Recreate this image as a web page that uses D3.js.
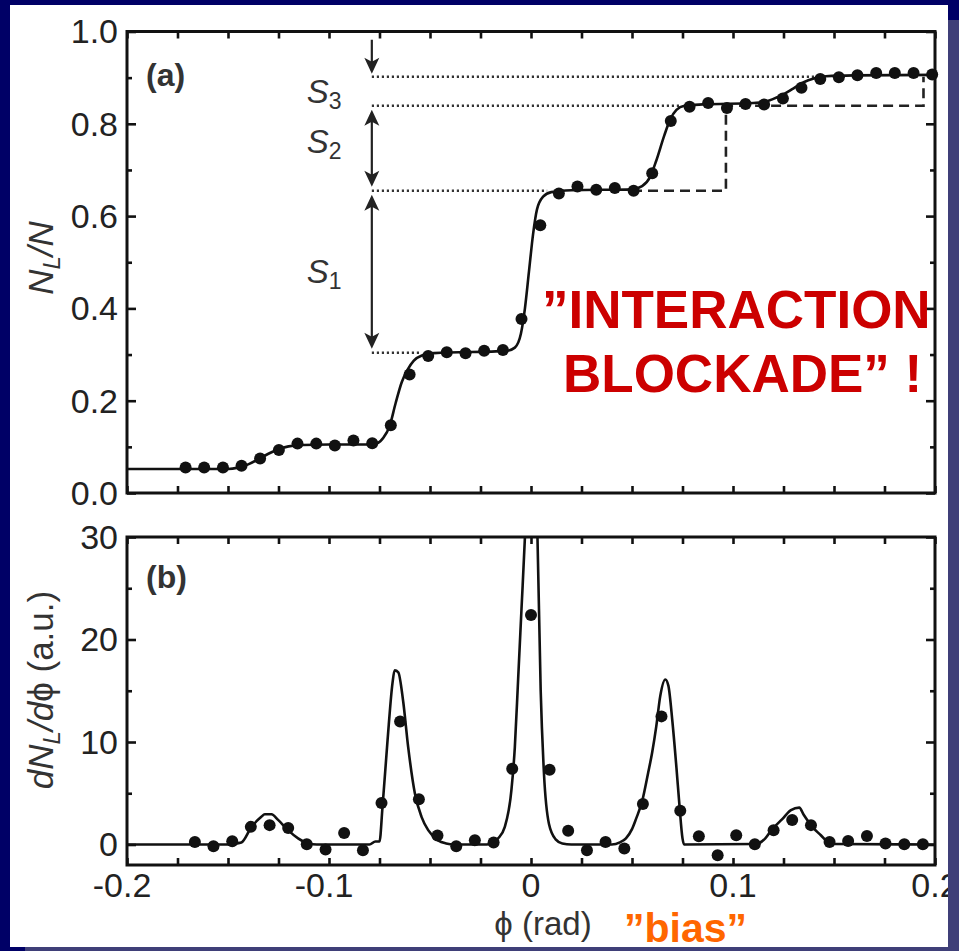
<!DOCTYPE html>
<html><head><meta charset="utf-8">
<script src="https://cdn.jsdelivr.net/npm/d3@7"></script>
<style>html,body{margin:0;padding:0;background:#000066;overflow:hidden}</style>
</head><body>
<svg id="c" width="959" height="951"></svg>
<script>
// ---------- data ----------
// panel (a): measured N_L/N
const phiA = [-0.1710,-0.1618,-0.1525,-0.1433,-0.1341,-0.1248,-0.1156,-0.1063,-0.0971,-0.0879,-0.0786,-0.0694,-0.0601,-0.0509,-0.0417,-0.0324,-0.0232,-0.0139,-0.0047,0.0046,0.0138,0.0230,0.0323,0.0415,0.0508,0.0600,0.0692,0.0785,0.0877,0.0970,0.1062,0.1154,0.1247,0.1339,0.1432,0.1524,0.1616,0.1709,0.1801,0.1894,0.1986];
const nlA = [0.055,0.055,0.055,0.059,0.075,0.093,0.107,0.107,0.103,0.114,0.108,0.147,0.257,0.297,0.305,0.303,0.308,0.310,0.377,0.580,0.649,0.664,0.657,0.661,0.655,0.693,0.806,0.837,0.845,0.834,0.843,0.842,0.855,0.878,0.897,0.901,0.905,0.910,0.910,0.910,0.907];
// panel (a): fitted curve
const fitAPhi = [-0.200,-0.150,-0.145,-0.140,-0.135,-0.130,-0.125,-0.120,-0.113,-0.100,-0.080,-0.076,-0.073,-0.070,-0.067,-0.064,-0.061,-0.058,-0.054,-0.048,-0.012,-0.008,-0.005,-0.003,-0.001,0.001,0.003,0.006,0.010,0.020,0.050,0.055,0.059,0.062,0.066,0.069,0.072,0.076,0.085,0.110,0.116,0.120,0.125,0.130,0.135,0.140,0.146,0.160,0.200];
const fitAVal = [0.052,0.052,0.055,0.062,0.073,0.085,0.095,0.101,0.104,0.105,0.105,0.108,0.120,0.145,0.195,0.240,0.268,0.287,0.298,0.303,0.308,0.315,0.345,0.400,0.480,0.560,0.615,0.642,0.652,0.656,0.658,0.665,0.685,0.720,0.775,0.810,0.830,0.839,0.842,0.845,0.848,0.854,0.864,0.877,0.890,0.898,0.903,0.905,0.906];
// panel (a): step levels S1..S3 and the dashed staircase
const levels = [0.304, 0.655, 0.839, 0.902];
const levelEnds = [-0.055, 0.008, 0.074, 0.145];
const arrowPhi = -0.0788;
const stairPhi = [0.050, 0.0965, 0.0965, 0.1943, 0.1943];
const stairVal = [0.655, 0.655, 0.839, 0.839, 0.902];

// panel (b): measured derivative
const phiB = [-0.1664,-0.1572,-0.1479,-0.1387,-0.1294,-0.1202,-0.1110,-0.1017,-0.0925,-0.0832,-0.0740,-0.0648,-0.0555,-0.0463,-0.0370,-0.0278,-0.0185,-0.0093,0.0000,0.0092,0.0184,0.0277,0.0369,0.0462,0.0554,0.0646,0.0739,0.0831,0.0924,0.1016,0.1108,0.1201,0.1293,0.1386,0.1478,0.1570,0.1663,0.1755,0.1848,0.1940];
const dB = [0.25,-0.17,0.32,1.72,1.89,1.62,0.03,-0.49,1.13,-0.56,4.06,12.0,4.42,0.88,-0.17,0.42,0.20,7.38,22.4,7.3,1.33,-0.56,0.25,-0.40,3.95,12.5,3.3,0.81,-1.05,0.90,0.03,1.39,2.4,1.89,0.25,0.35,0.84,0.10,0.03,0.03];
// panel (b): fitted curve
const fitBPhi = [-0.200,-0.150,-0.1483,-0.1434,-0.1384,-0.1335,-0.1318,-0.1285,-0.1252,-0.1203,-0.1153,-0.1103,-0.106,-0.080,-0.077,-0.075,-0.0735,-0.071,-0.0686,-0.0675,-0.0657,-0.0633,-0.0608,-0.0575,-0.0542,-0.0509,-0.046,-0.042,-0.038,-0.022,-0.0196,-0.0163,-0.013,-0.0097,-0.008,-0.0064,-0.0047,-0.003,-0.0015,0.000,0.0015,0.0032,0.0048,0.0064,0.0089,0.0122,0.0155,0.020,0.040,0.044,0.047,0.050,0.052,0.055,0.058,0.060,0.062,0.064,0.0665,0.068,0.070,0.072,0.0735,0.075,0.0758,0.111,0.116,0.119,0.1245,0.1287,0.1328,0.135,0.1394,0.1435,0.1468,0.150,0.200];
const fitBVal = [0.0,0.0,0.05,0.2,1.7,2.7,2.95,2.95,2.4,1.4,0.6,0.1,0.0,0.0,0.3,0.3,3.7,10.2,15.7,17.0,16.8,14.0,9.5,5.0,2.7,1.4,0.4,0.1,0.0,0.0,0.1,0.6,1.7,5.3,9.5,16,23,30,38,40,38,30,15,7,2,0.5,0.1,0.0,0.0,0.2,0.6,1.5,2.5,4.2,7.0,9.0,11.5,14.5,16.1,15.5,12.0,7.5,3.8,0.6,0.0,0.05,0.6,1.4,2.5,3.35,3.6,2.9,1.7,0.9,0.25,0.05,0.0];

// axis ticks and labels
const xTicks = [-0.2,-0.1,0,0.1,0.2];
const xTickLabels = ["-0.2","-0.1","0","0.1","0.2"];
const xMinor = [-0.2,-0.175,-0.15,-0.125,-0.1,-0.075,-0.05,-0.025,0,0.025,0.05,0.075,0.1,0.125,0.15,0.175,0.2];
const yATicks = [0,0.2,0.4,0.6,0.8,1.0];
const yATickLabels = ["0.0","0.2","0.4","0.6","0.8","1.0"];
const yAMinor = [0.1,0.3,0.5,0.7,0.9];
const yBTicks = [0,10,20,30];
const yBTickLabels = ["0","10","20","30"];
const yBMinor = [5,15,25];

// ---------- drawing ----------
const FONT = "'Liberation Sans', Arial, Helvetica, sans-serif";
const INK = "#111";
const svg = d3.select("#c");

svg.append("rect").attr("x",0).attr("y",0).attr("width",959).attr("height",951).attr("fill","#000066");
svg.append("rect").attr("x",10).attr("y",5).attr("width",938).attr("height",942).attr("fill","#ffffff");

const x = d3.scaleLinear().domain([-0.2,0.2]).range([127,935]);
const yA = d3.scaleLinear().domain([0,1]).range([493,31.5]);
const yB = d3.scaleLinear().domain([-2,30]).range([865,537]);

const defs = svg.append("defs");
defs.append("clipPath").attr("id","clipA").append("rect")
  .attr("x",x(-0.2)).attr("y",yA(1)).attr("width",x(0.2)-x(-0.2)).attr("height",yA(0)-yA(1));
defs.append("clipPath").attr("id","clipB").append("rect")
  .attr("x",x(-0.2)).attr("y",yB(30)).attr("width",x(0.2)-x(-0.2)).attr("height",yB(-2)-yB(30));

// ---- panel (a) ----
const gA = svg.append("g");
const plotA = gA.append("g").attr("clip-path","url(#clipA)");

// dotted step levels
levels.forEach((v,i)=>{
  plotA.append("line")
    .attr("x1",x(arrowPhi)).attr("x2",x(levelEnds[i]))
    .attr("y1",yA(v)).attr("y2",yA(v))
    .attr("stroke","#333").attr("stroke-width",2.4).attr("stroke-dasharray","2.2,2.8");
});
// dashed staircase
plotA.append("path")
  .datum(stairPhi.map((p,i)=>[p,stairVal[i]]))
  .attr("d", d3.line().x(d=>x(d[0])).y(d=>yA(d[1])))
  .attr("fill","none").attr("stroke","#222").attr("stroke-width",2.6).attr("stroke-dasharray","10,6");

// arrows
function arrowHead(g, px, py, dir){ // dir: +1 pointing down, -1 pointing up
  const L = 16, W = 7.5, N = 4;
  const p = [[px,py],[px-W,py-dir*L],[px,py-dir*(L-N)],[px+W,py-dir*L]];
  g.append("path").attr("d","M"+p.map(d=>d.join(",")).join("L")+"Z").attr("fill","#222");
}
const ax = x(arrowPhi);
plotA.append("line").attr("x1",ax).attr("x2",ax).attr("y1",yA(0.982)).attr("y2",yA(levels[3])-6)
  .attr("stroke","#222").attr("stroke-width",2.2);
arrowHead(plotA, ax, yA(levels[3])-3, 1);
plotA.append("line").attr("x1",ax).attr("x2",ax).attr("y1",yA(levels[2])+8).attr("y2",yA(levels[1])-8)
  .attr("stroke","#222").attr("stroke-width",2.2);
arrowHead(plotA, ax, yA(levels[2])+4, -1);
arrowHead(plotA, ax, yA(levels[1])-4, 1);
plotA.append("line").attr("x1",ax).attr("x2",ax).attr("y1",yA(levels[1])+8).attr("y2",yA(levels[0])-8)
  .attr("stroke","#222").attr("stroke-width",2.2);
arrowHead(plotA, ax, yA(levels[1])+4, -1);
arrowHead(plotA, ax, yA(levels[0])-4, 1);

// fit curve (a)
plotA.append("path")
  .datum(fitAPhi.map((p,i)=>[p,fitAVal[i]]))
  .attr("d", d3.line().x(d=>x(d[0])).y(d=>yA(d[1])).curve(d3.curveMonotoneX))
  .attr("fill","none").attr("stroke",INK).attr("stroke-width",2.6);
// data dots (a)
gA.append("g").selectAll("circle").data(phiA.map((p,i)=>[p,nlA[i]])).join("circle")
  .attr("cx",d=>x(d[0])).attr("cy",d=>yA(d[1])).attr("r",6).attr("fill",INK);

// S labels
function sLabel(g, px, py, sub){
  const t = g.append("text").attr("x",px).attr("y",py)
    .attr("font-family",FONT).attr("font-size",33).attr("fill","#333");
  t.append("tspan").attr("font-style","italic").text("S");
  t.append("tspan").attr("font-size",23).attr("dy",6).text(sub);
}
sLabel(gA, ax-65, 103, "3");
sLabel(gA, ax-65, 153, "2");
sLabel(gA, ax-65, 283, "1");

// ---- panel (b) ----
const gB = svg.append("g");
const plotB = gB.append("g").attr("clip-path","url(#clipB)");
plotB.append("path")
  .datum(fitBPhi.map((p,i)=>[p,fitBVal[i]]))
  .attr("d", d3.line().x(d=>x(d[0])).y(d=>yB(d[1])).curve(d3.curveMonotoneX))
  .attr("fill","none").attr("stroke",INK).attr("stroke-width",2.6);
gB.append("g").selectAll("circle").data(phiB.map((p,i)=>[p,dB[i]])).join("circle")
  .attr("cx",d=>x(d[0])).attr("cy",d=>yB(d[1])).attr("r",6).attr("fill",INK);

// ---- axes ----
function ticks(g, axis){
  g.call(axis).call(s=>s.select(".domain").remove())
   .call(s=>s.selectAll(".tick line").attr("stroke",INK).attr("stroke-width",2.6))
   .call(s=>s.selectAll(".tick text").remove());
}
[[yA,yATicks,yAMinor],[yB,yBTicks,yBMinor]].forEach(([ys,maj,min])=>{
  const top = ys.range()[1], bot = ys.range()[0];
  ticks(svg.append("g").attr("transform",`translate(${x(-0.2)},0)`), d3.axisLeft(ys).tickValues(maj).tickSize(-9));
  ticks(svg.append("g").attr("transform",`translate(${x(-0.2)},0)`), d3.axisLeft(ys).tickValues(min).tickSize(-5));
  ticks(svg.append("g").attr("transform",`translate(${x(0.2)},0)`), d3.axisRight(ys).tickValues(maj).tickSize(-9));
  ticks(svg.append("g").attr("transform",`translate(${x(0.2)},0)`), d3.axisRight(ys).tickValues(min).tickSize(-5));
  ticks(svg.append("g").attr("transform",`translate(0,${bot})`), d3.axisBottom(x).tickValues(xMinor).tickSize(-7));
  ticks(svg.append("g").attr("transform",`translate(0,${top})`), d3.axisTop(x).tickValues(xMinor).tickSize(-7));
  svg.append("rect").attr("x",x(-0.2)).attr("y",top).attr("width",x(0.2)-x(-0.2)).attr("height",bot-top)
    .attr("fill","none").attr("stroke",INK).attr("stroke-width",3);
});

// tick labels
const tickTxt = {"font-family":FONT,"font-size":34,"fill":"#222"};
function styled(sel, o){ Object.entries(o).forEach(([k,v])=>sel.attr(k,v)); return sel; }
yATicks.forEach((v,i)=>{
  styled(svg.append("text"),tickTxt).attr("x",118).attr("y",yA(v)).attr("dy","0.35em")
    .attr("text-anchor","end").text(yATickLabels[i]);
});
yBTicks.forEach((v,i)=>{
  styled(svg.append("text"),tickTxt).attr("x",118).attr("y",yB(v)).attr("dy","0.35em")
    .attr("text-anchor","end").text(yBTickLabels[i]);
});
xTicks.forEach((v,i)=>{
  styled(svg.append("text"),tickTxt).attr("x",x(v) + (v<0?-5:0)).attr("y",897)
    .attr("text-anchor","middle").text(xTickLabels[i]);
});

// panel letters
styled(svg.append("text"),{"font-family":FONT,"font-size":32,"font-weight":"bold","fill":"#333"})
  .attr("x",146).attr("y",86).text("(a)");
styled(svg.append("text"),{"font-family":FONT,"font-size":32,"font-weight":"bold","fill":"#333"})
  .attr("x",146).attr("y",588).text("(b)");

// axis titles
const yt1 = styled(svg.append("text"),{"font-family":FONT,"font-size":35,"fill":"#333"})
  .attr("transform","translate(53,258) rotate(-90)").attr("text-anchor","middle");
yt1.append("tspan").attr("font-style","italic").text("N");
yt1.append("tspan").attr("font-style","italic").attr("font-size",24).attr("dy",7).text("L");
yt1.append("tspan").attr("font-style","italic").attr("dy",-7).text("/N");

const yt2 = styled(svg.append("text"),{"font-family":FONT,"font-size":35,"fill":"#333"})
  .attr("transform","translate(53,690) rotate(-90)").attr("text-anchor","middle");
yt2.append("tspan").attr("font-style","italic").text("dN");
yt2.append("tspan").attr("font-style","italic").attr("font-size",24).attr("dy",7).text("L");
yt2.append("tspan").attr("font-style","italic").attr("dy",-7).text("/d");
yt2.append("tspan").text("ϕ (a.u.)");

styled(svg.append("text"),{"font-family":FONT,"font-size":33,"fill":"#333"})
  .attr("x",543).attr("y",935).attr("text-anchor","middle").text("ϕ (rad)");

// slide annotations
const red = {"font-family":FONT,"font-size":53,"font-weight":"bold","fill":"#cc0000"};
styled(svg.append("text"),red).attr("x",542).attr("y",328).text("”INTERACTION");
styled(svg.append("text"),red).attr("x",563).attr("y",392).text("BLOCKADE” !");
styled(svg.append("text"),{"font-family":FONT,"font-size":41,"font-weight":"bold","fill":"#ff6600"})
  .attr("x",624).attr("y",942).text("”bias”");

// slide frame strips
svg.append("rect").attr("x",948).attr("y",20).attr("width",11).attr("height",931).attr("fill","#3f3f78");
svg.append("rect").attr("x",25).attr("y",947).attr("width",934).attr("height",4).attr("fill","#3f3f78");
</script>
</body></html>
